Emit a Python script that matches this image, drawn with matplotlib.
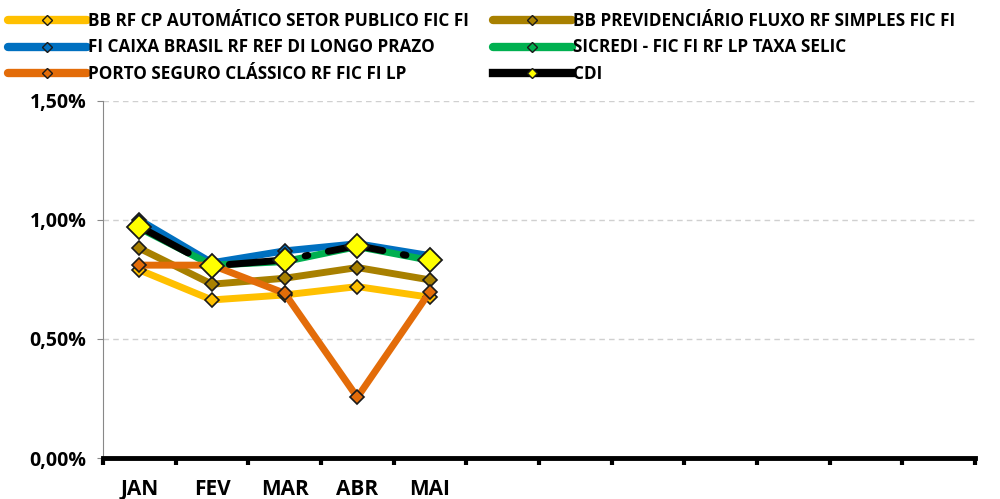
import numpy as np
import matplotlib.pyplot as plt
from matplotlib.lines import Line2D

plt.rcParams['font.family'] = ['Open Sans', 'DejaVu Sans']
plt.rcParams['font.weight'] = 'bold'

months = ['JAN', 'FEV', 'MAR', 'ABR', 'MAI', '', '', '', '', '', '', '']

bb_rf_cp = [0.79, 0.664, 0.685, 0.72, 0.675]
bb_prev = [0.881, 0.73, 0.755, 0.80, 0.748]
caixa = [1.00, 0.82, 0.87, 0.90, 0.85]
sicredi = [0.966, 0.81, 0.825, 0.888, 0.83]
porto = [0.81, 0.81, 0.692, 0.255, 0.699]
cdi = [0.972, 0.807, 0.832, 0.892, 0.832]

names = ['BB RF CP AUTOMÁTICO SETOR PUBLICO FIC FI',
         'BB PREVIDENCIÁRIO FLUXO RF SIMPLES FIC FI',
         'FI CAIXA BRASIL RF REF DI LONGO PRAZO',
         'SICREDI - FIC FI RF LP TAXA SELIC',
         'PORTO SEGURO CLÁSSICO RF FIC FI LP',
         'CDI']
colors = ['#FFC000', '#A88000', '#0070C0', '#00B050', '#E36C09', '#000000']
series = [bb_rf_cp, bb_prev, caixa, sicredi, porto, cdi]

fig = plt.figure(figsize=(10, 4.99), dpi=100)
ax = fig.add_axes([0.103, 0.082, 0.872, 0.716])

x = np.arange(len(bb_rf_cp)) + 0.5
handles = []
for s, c, n in zip(series, colors, names):
    if n == 'CDI':
        ax.plot(x, s, color=c, lw=5, dashes=(8, 3, 0.4, 3),
                dash_capstyle='round', marker='D', ms=12,
                mfc='#FFFF00', mec='#1a1a1a', mew=1.3, zorder=5)
        h = Line2D([], [], color=c, lw=6, marker='D', ms=5,
                   mfc='#FFFF00', mec='#1a1a1a', mew=1)
    else:
        ax.plot(x, s, color=c, lw=5, marker='D', ms=7,
                mfc=c, mec='#1a1a1a', mew=1.2, zorder=3)
        h = Line2D([], [], color=c, lw=6, marker='D', ms=5,
                   mfc=c, mec='#1a1a1a', mew=1, solid_capstyle='round')
    handles.append(h)

ax.set_xlim(0, 12)
ax.set_ylim(0, 1.5)
ax.set_yticks([0, 0.5, 1.0, 1.5])
ax.set_yticklabels(['0,00%', '0,50%', '1,00%', '1,50%'], fontsize=14, fontweight='bold')
ax.yaxis.grid(True, color='#d0d0d0', ls=(0, (4, 3)), lw=1)
ax.set_axisbelow(True)

ax.set_xticks(np.arange(0, 13))
ax.set_xticklabels([])
ax.set_xticks(x.tolist() + list(np.arange(5, 12) + 0.5), minor=True)
ax.set_xticklabels(months, minor=True, fontsize=15, fontweight='bold')
ax.tick_params(axis='x', which='minor', length=0, pad=15)
ax.tick_params(axis='x', which='major', length=5, width=3, direction='out')
ax.tick_params(axis='y', length=4, color='#888888', pad=8)

for sp in ['top', 'right']:
    ax.spines[sp].set_visible(False)
ax.spines['left'].set_color('#888888')
ax.spines['bottom'].set_linewidth(3.5)

order = [0, 2, 4, 1, 3, 5]
fig.legend([handles[i] for i in order], [names[i] for i in order],
           ncol=2, loc='upper left', bbox_to_anchor=(-0.004, 1.0),
           frameon=False, handlelength=4.6, handletextpad=0.1,
           columnspacing=1.4, labelspacing=0.5, borderaxespad=0.3,
           prop={'weight': 'bold', 'size': 12.3})

fig.savefig('out.png', dpi=100)
